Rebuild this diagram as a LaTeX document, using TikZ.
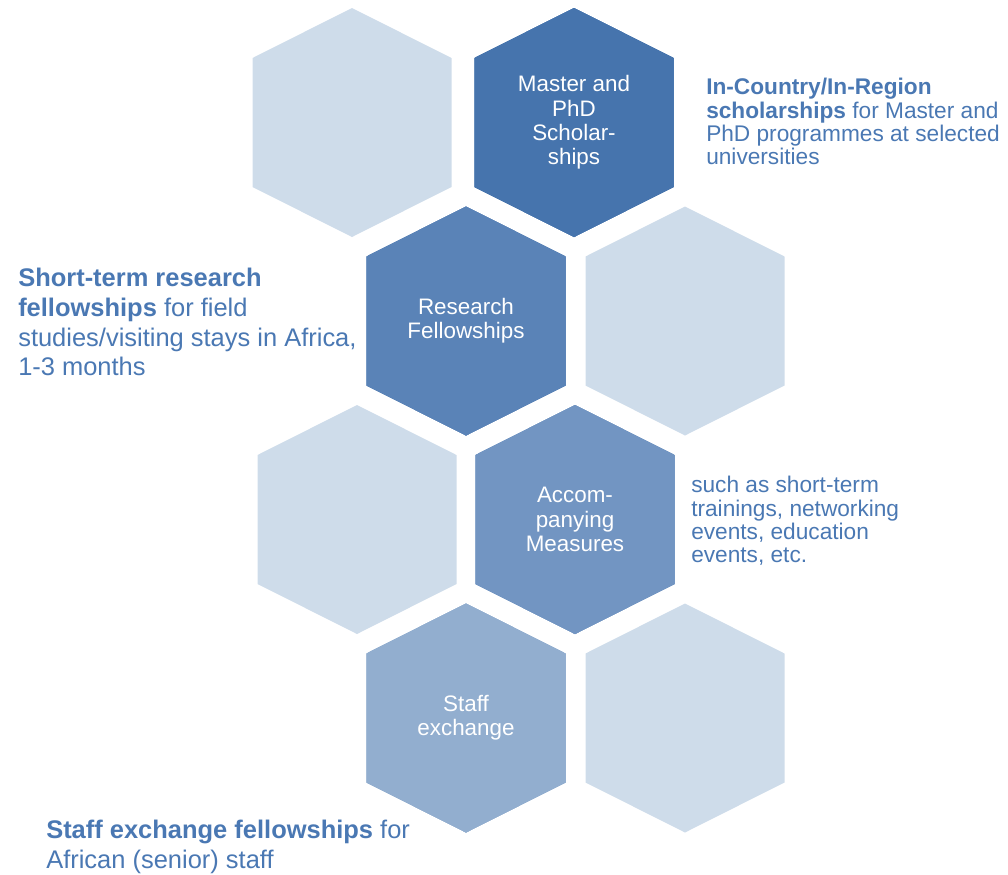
\documentclass[tikz,border=0pt]{standalone}
\usepackage{fontspec}
\setmainfont{Liberation Sans}
\definecolor{hexlight}{HTML}{CEDCEA}
\definecolor{hexmaster}{HTML}{4674AD}
\definecolor{hexresearch}{HTML}{5A83B7}
\definecolor{hexaccomp}{HTML}{7295C2}
\definecolor{hexstaff}{HTML}{92AECF}
\definecolor{noteblue}{HTML}{4A78B3}
\tikzset{
  hexlabel/.style={text=white, align=center, inner sep=0pt, font=\fontsize{16.8}{18.2}\selectfont},
  sidenote/.style={text=noteblue, align=left, anchor=north west, inner sep=0pt, font=\fontsize{17}{17.5}\selectfont},
  widenote/.style={sidenote, font=\fontsize{19.1}{22.3}\selectfont},
}
% cell centred at (#1,#2), filled with #3
\newcommand{\hexcell}[3]{%
  \fill[#3] (#1,#2) +(0,-114.5) -- +(99.5,-64.5) -- +(99.5,64.5) -- +(0,114.5) -- +(-99.5,64.5) -- +(-99.5,-64.5) -- cycle;
}
\begin{document}
\begin{tikzpicture}[x=0.75pt, y=-0.75pt]
    \useasboundingbox (0,0) rectangle (1008,875);
    % empty cells
    \foreach \cx/\cy in {352/122.5, 685/321, 357/519.5, 685/718}
        \hexcell{\cx}{\cy}{hexlight}
    % programme cells
    \hexcell{574}{122.5}{hexmaster}
    \hexcell{466}{321}{hexresearch}
    \hexcell{575}{519.5}{hexaccomp}
    \hexcell{466}{718}{hexstaff}
    \node[hexlabel] (master)   at (574, 122.5) {Master and\\PhD\\Scholar-\\ships};
    \node[hexlabel] (research) at (466, 321)   {Research\\Fellowships};
    \node[hexlabel] (accomp)   at (575, 519.5) {Accom-\\panying\\Measures};
    \node[hexlabel] (staff)    at (466, 718)   {Staff\\exchange};
    % descriptions
    \node[sidenote] (masternote)   at (706, 78)  {\textbf{In-Country/In-Region}\\\textbf{scholarships} for Master and\\PhD programmes at selected\\universities};
    \node[widenote] (researchnote) at (18, 268)  {\textbf{Short-term research}\\\textbf{fellowships} for field\\studies/visiting stays in Africa,\\1-3 months};
    \node[sidenote] (accompnote)   at (691, 476) {such as short-term\\trainings, networking\\events, education\\events, etc.};
    \node[widenote] (staffnote)    at (46, 820)  {\textbf{Staff exchange fellowships} for\\African (senior) staff};
\end{tikzpicture}
\end{document}
